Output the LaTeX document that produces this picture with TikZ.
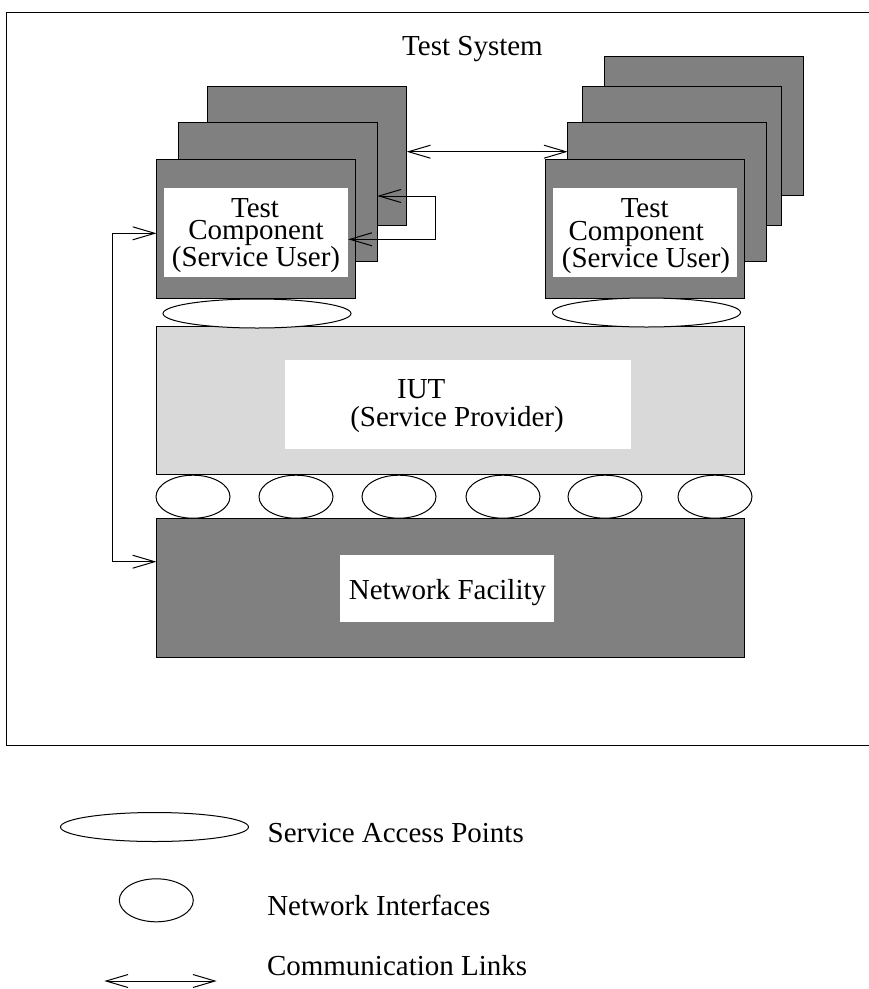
\documentclass[tikz,border=0pt]{standalone}
\usepackage{fontspec}
\setmainfont{Liberation Serif}
\usetikzlibrary{arrows.meta,shapes.geometric}
\definecolor{darkfill}{HTML}{808080}
\definecolor{lightfill}{HTML}{D9D9D9}
\begin{document}
\begin{tikzpicture}[x=1pt,y=-1pt,
  every node/.style={inner sep=0pt, outer sep=0pt},
  comp/.style={draw=black, line width=1pt, fill=darkfill, minimum width=199pt, minimum height=139pt},
  layer/.style={draw=black, line width=1pt, minimum width=588pt},
  whitebox/.style={fill=white},
  sap/.style={draw=black, line width=1pt, fill=white, ellipse, minimum width=188pt, minimum height=29pt},
  nif/.style={draw=black, line width=1pt, fill=white, ellipse, minimum width=74pt, minimum height=43pt},
  txt/.style={anchor=base, font=\fontsize{29}{29}\selectfont},
  ltxt/.style={anchor=base west, font=\fontsize{29}{29}\selectfont},
  link/.style={line width=1pt, {Straight Barb[length=22pt,width=13pt]}-{Straight Barb[length=22pt,width=13pt]}}
]
\useasboundingbox (0,0) rectangle (869,989);
% frame
\draw[line width=1pt] (869,12) -- (6,12) -- (6,745.5) -- (869,745.5);
\node[txt] (title) at (472.5,55.5) {Test System};

% left stack
\node[comp] (L3) at (307.2,155.7) {};
\node[comp] (L2) at (277.7,192.3) {};
\node[comp] (L1) at (256,228.8) {};
\node[whitebox, minimum width=184pt, minimum height=89pt] (L1w) at (256.2,232.2) {};
\node[txt] (L1a) at (255,217.3) {Test};
\node[txt] (L1b) at (256,239) {Component};
\node[txt] (L1c) at (256,266.7) {(Service User)};

% right stack
\node[comp] (R4) at (704.2,126.2) {};
\node[comp] (R3) at (681.8,155.7) {};
\node[comp] (R2) at (667.2,192.2) {};
\node[comp] (R1) at (645.3,228.7) {};
\node[whitebox, minimum width=184pt, minimum height=89pt] (R1w) at (645,232.3) {};
\node[txt] (R1a) at (644.7,217.7) {Test};
\node[txt] (R1b) at (636.3,240) {Component};
\node[txt] (R1c) at (646,267.7) {(Service User)};

% IUT
\node[layer, fill=lightfill, minimum height=148pt] (IUT) at (450.5,400.5) {};
\node[whitebox, minimum width=346pt, minimum height=89pt] (IUTw) at (458,404.5) {};
\node[txt] (IUTa) at (421.3,398.3) {IUT};
\node[txt] (IUTb) at (457,426.7) {(Service Provider)};

% service access points
\node[sap] (SAP1) at (257,313.5) {};
\node[sap] (SAP2) at (646.5,312.5) {};

% network facility
\node[layer, fill=darkfill, minimum height=139pt] (NF) at (450.4,588.3) {};
\node[whitebox, minimum width=214pt, minimum height=67pt] (NFw) at (447,588.3) {};
\node[txt] (NFa) at (447.5,599.3) {Network Facility};

% network interfaces
\foreach \i/\x in {1/193,2/296,3/399,4/503,5/605,6/715}
  \node[nif] (NI\i) at (\x,496.7) {};

% communication links
\coordinate (yA) at (0,151.7);
\coordinate (yB) at (0,196);
\coordinate (yC) at (0,239.3);
\coordinate (yD) at (0,233.3);
\coordinate (yE) at (0,561.7);
\coordinate (loopx) at (435.5,0);
\coordinate (leftx) at (112.7,0);
\draw[link] (L3.east |- yA) -- (R2.west |- yA);
\draw[link] (L2.east |- yB) -- (loopx |- yB) -- (loopx |- yC) -- (L1w.east |- yC);
\draw[link] (L1.west |- yD) -- (leftx |- yD) -- (leftx |- yE) -- (NF.west |- yE);

% legend
\node[sap] (legSAP) at (154.5,827) {};
\node[ltxt] (legSAPt) at (267.7,842.7) {Service Access Points};
\node[nif] (legNI) at (156.3,900.3) {};
\node[ltxt] (legNIt) at (267.3,915) {Network Interfaces};
\coordinate (legA) at (104.3,981);
\coordinate (legB) at (216.7,981);
\draw[link] (legA) -- (legB);
\node[ltxt] (legCLt) at (267,975) {Communication Links};
\end{tikzpicture}
\end{document}
